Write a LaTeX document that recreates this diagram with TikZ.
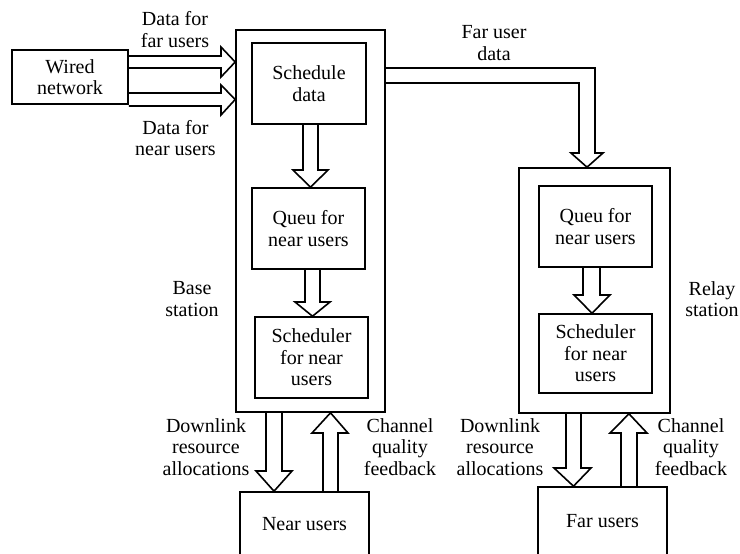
\documentclass[tikz,border=0pt]{standalone}
\usepackage{fontspec}
\setmainfont{Liberation Serif}
\begin{document}
\begin{tikzpicture}[x=1pt,y=-1pt,
  box/.style={draw,line width=1.6pt,inner sep=0pt,align=center,font=\fontsize{20}{21.5}\selectfont},
  lbl/.style={inner sep=0pt,align=center,font=\fontsize{20}{21.5}\selectfont},
  blk/.style={draw,line width=1.6pt,line join=miter,miter limit=10}]
\useasboundingbox (0,0) rectangle (740,554);
\clip (0,0) rectangle (740,554);
% boxes
\node[box,minimum width=116pt,minimum height=54pt] (wired) at (70,77) {Wired\\network};
\node[box,minimum width=149pt,minimum height=382pt] (base) at (310.5,221) {};
\node[box,minimum width=114pt,minimum height=81pt] (sd) at (309,83.5) {Schedule\\data};
\node[box,minimum width=113pt,minimum height=81pt] (qb) at (308.5,228.5) {Queu for\\near users};
\node[box,minimum width=113pt,minimum height=81pt] (sb) at (311.5,357.5) {Scheduler\\for near\\users};
\node[box,minimum width=129pt,minimum height=65pt] (near) at (304.5,524.5) {Near users};
\node[box,minimum width=151pt,minimum height=245pt] (relay) at (594.5,290.5) {};
\node[box,minimum width=113pt,minimum height=81pt] (rq) at (595.5,226.5) {Queu for\\near users};
\node[box,minimum width=113pt,minimum height=79pt] (rs) at (595.5,353.5) {Scheduler\\for near\\users};
\node[box,minimum width=129pt,minimum height=68pt] (far) at (602.5,521) {Far users};
% labels
\node[lbl] (l1) at (175,29.5) {Data for\\far users};
\node[lbl] (l2) at (175.5,138) {Data for\\near users};
\node[lbl] (l3) at (494,43) {Far user\\data};
\node[lbl] (l4) at (192,299) {Base\\station};
\node[lbl] (l5) at (712,299) {Relay\\station};
\node[lbl] (l6) at (206,447) {Downlink\\resource\\allocations};
\node[lbl] (l7) at (400,447) {Channel\\quality\\feedback};
\node[lbl] (l8) at (500,447) {Downlink\\resource\\allocations};
\node[lbl] (l9) at (691,447) {Channel\\quality\\feedback};
% block arrows: wired -> base
\draw[blk] (wired.east |- 0,56) -- (221,56) -- (221,47) -- (base.west |- 0,62) -- (221,77) -- (221,68) -- (wired.east |- 0,68);
\draw[blk] (wired.east |- 0,93) -- (221,93) -- (221,85) -- (base.west |- 0,99.5) -- (221,115) -- (221,106) -- (wired.east |- 0,106);
% schedule -> queue
\draw[blk] (303,0 |- sd.south) -- (303,170) -- (293,170) -- (310.5,0 |- qb.north) -- (328,170) -- (318,170) -- (318,0 |- sd.south);
% queue -> scheduler
\draw[blk] (305,0 |- qb.south) -- (305,302) -- (295,302) -- (312.5,0 |- sb.north) -- (330,302) -- (320,302) -- (320,0 |- qb.south);
% relay queue -> scheduler
\draw[blk] (583,0 |- rq.south) -- (583,295) -- (574,295) -- (592,0 |- rs.north) -- (610,295) -- (600,295) -- (600,0 |- rq.south);
% far user data
\draw[blk] (base.east |- 0,68) -- (595,68) -- (595,153) -- (603,153) -- (587,0 |- relay.north) -- (571,153) -- (579,153) -- (579,83) -- (base.east |- 0,83);
% base <-> near users
\draw[blk] (266,0 |- base.south) -- (266,471) -- (256,471) -- (274,0 |- near.north) -- (292,471) -- (282,471) -- (282,0 |- base.south);
\draw[blk] (323,0 |- near.north) -- (323,433) -- (312,433) -- (330.5,0 |- base.south) -- (348,433) -- (338,433) -- (338,0 |- near.north);
% relay <-> far users
\draw[blk] (566,0 |- relay.south) -- (566,468) -- (554,468) -- (573.5,0 |- far.north) -- (591,468) -- (581,468) -- (581,0 |- relay.south);
\draw[blk] (621,0 |- far.north) -- (621,433) -- (610,433) -- (629,0 |- relay.south) -- (647,433) -- (637,433) -- (637,0 |- far.north);
\end{tikzpicture}
\end{document}
